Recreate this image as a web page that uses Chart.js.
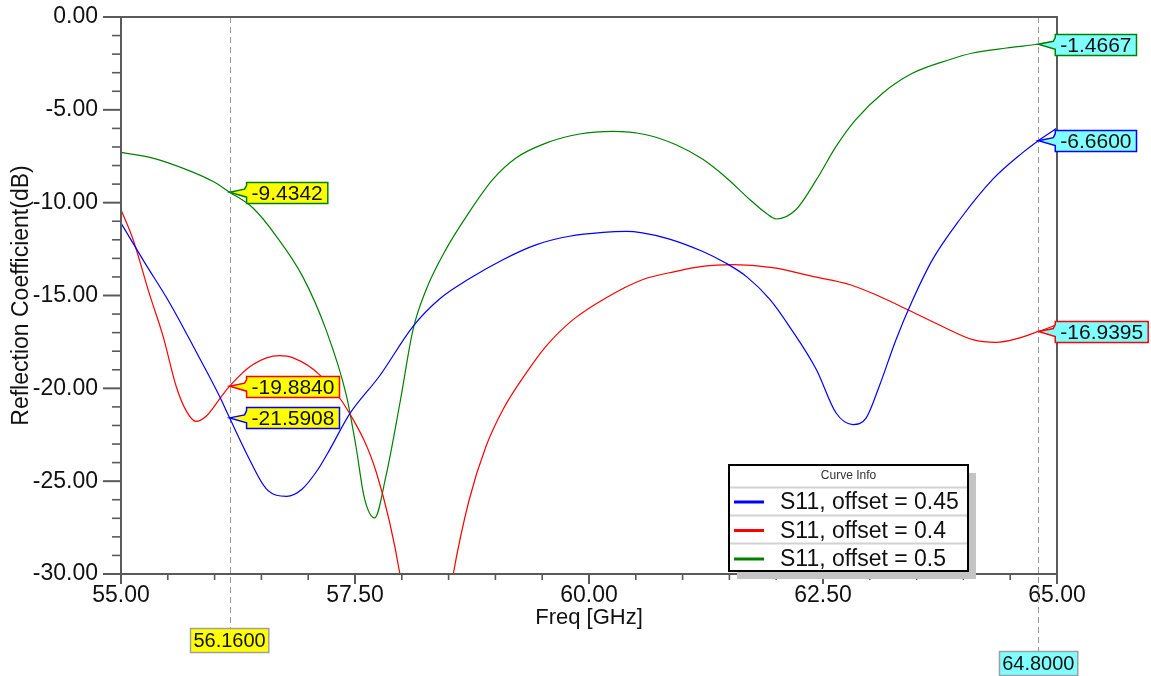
<!DOCTYPE html>
<html><head><meta charset="utf-8">
<script src="https://cdn.jsdelivr.net/npm/chart.js@4.4.0/dist/chart.umd.min.js"></script>
<style>html,body{margin:0;padding:0;background:#fff;}#wrap{width:1151px;height:676px;position:relative}</style>
</head><body><div id="wrap"><canvas id="c" width="1151" height="676"></canvas></div>
<script>
// ---------- data ----------
const xTickValues = [55, 57.5, 60, 62.5, 65];
const yTickValues = [0, -5, -10, -15, -20, -25, -30];
const seriesLabels = ['S11, offset = 0.45', 'S11, offset = 0.4', 'S11, offset = 0.5'];

const freqBlue = [55.0,55.25,55.52,55.8,56.05,56.16,56.35,56.55,56.77,56.93,57.1,57.23,57.44,57.76,58.12,58.40,58.72,59.08,59.44,59.79,60.15,60.40,60.57,60.86,61.21,61.46,61.68,61.93,62.14,62.43,62.64,62.82,62.96,63.10,63.28,63.46,63.67,63.96,64.31,64.63,64.80,65.0];
const s11Blue = [-11.1,-13.2,-15.4,-18.0,-20.4,-21.59,-23.6,-25.4,-25.82,-25.45,-24.4,-23.3,-21.4,-19.35,-16.66,-15.2,-14.1,-13.07,-12.26,-11.81,-11.6,-11.55,-11.63,-11.96,-12.62,-13.25,-13.97,-15.2,-16.66,-19.0,-21.33,-21.95,-21.6,-19.9,-17.38,-15.22,-13.07,-10.92,-8.76,-7.32,-6.66,-5.98];

const freqRed = [55.0,55.13,55.30,55.45,55.59,55.70,55.80,55.91,56.05,56.16,56.41,56.69,56.84,57.12,57.44,57.73,57.98,58.25,58.55,58.72,58.90,59.08,59.33,59.54,59.83,60.18,60.57,60.93,61.21,61.54,61.96,62.39,62.79,63.10,63.44,63.81,64.10,64.35,64.56,64.80,65.0];
const s11Red = [-10.38,-12.0,-14.86,-17.2,-19.9,-21.24,-21.78,-21.5,-20.6,-19.884,-18.72,-18.24,-18.36,-19.26,-21.33,-24.56,-30.0,-40.0,-30.0,-26.0,-23.12,-21.15,-19.17,-17.74,-16.3,-15.13,-14.15,-13.7,-13.43,-13.34,-13.5,-13.97,-14.42,-15.04,-15.85,-16.75,-17.38,-17.52,-17.34,-16.94,-16.57];

const freqGreen = [55.0,55.34,55.70,55.98,56.16,56.41,56.66,56.94,57.19,57.41,57.51,57.60,57.71,57.83,57.98,58.12,58.26,58.47,58.69,58.97,59.22,59.54,59.90,60.25,60.61,60.93,61.22,61.47,61.72,61.90,62.00,62.21,62.43,62.64,62.85,63.14,63.46,63.85,64.10,64.46,64.80,65.0];
const s11Green = [-7.29,-7.6,-8.22,-8.85,-9.434,-10.29,-11.81,-13.97,-16.84,-20.43,-23.12,-25.9,-26.98,-24.74,-20.79,-16.84,-14.69,-12.53,-10.74,-8.76,-7.59,-6.79,-6.30,-6.16,-6.34,-6.88,-7.68,-8.67,-9.84,-10.6,-10.88,-10.38,-8.76,-6.97,-5.53,-4.09,-3.02,-2.30,-1.94,-1.67,-1.4667,-1.32];

const markerFreqs = [56.16, 64.8];
const markerFreqLabels = ['56.1600', '64.8000'];
// order: blue, red, green
const markerLeftValues = [-21.5908, -19.8840, -9.4342];
const markerRightValues = [-6.6600, -16.9395, -1.4667];

// ---------- styles ----------
const colors = ['#0000ff', '#ff0000', '#008000'];
const FONT = '"Liberation Sans", Arial, sans-serif';
const AXIS = '#5a5a5a';

function pts(xs, ys){ return xs.map((x,i)=>({x, y: ys[i]})); }

const datasets = [
  {label: seriesLabels[0], data: pts(freqBlue, s11Blue)},
  {label: seriesLabels[1], data: pts(freqRed, s11Red)},
  {label: seriesLabels[2], data: pts(freqGreen, s11Green)}
].map((d,i)=>Object.assign(d, {borderColor: colors[i], backgroundColor: colors[i], borderWidth: 1.2, pointRadius: 0, showLine: true, cubicInterpolationMode: 'monotone', fill: false}));

function callout(ctx, px, py, text, fill, stroke){
  ctx.save();
  ctx.font = '21px ' + FONT;
  const tw = ctx.measureText(text).width;
  const bx = px + 17, h = 21, w = tw + 10;
  const top = Math.round(py - h/2) + 0.5;
  ctx.beginPath();
  ctx.moveTo(px, py);
  ctx.lineTo(bx - 2, py - 3);
  ctx.lineTo(bx, top + 3);
  ctx.lineTo(bx, top);
  ctx.lineTo(bx + w, top);
  ctx.lineTo(bx + w, top + h);
  ctx.lineTo(bx, top + h);
  ctx.lineTo(bx, py + 5);
  ctx.closePath();
  ctx.fillStyle = fill; ctx.fill();
  ctx.strokeStyle = stroke; ctx.lineWidth = 1.5; ctx.stroke();
  ctx.fillStyle = '#111';
  ctx.textBaseline = 'middle'; ctx.textAlign = 'left';
  ctx.fillText(text, bx + 5, top + h/2 + 1);
  ctx.restore();
}

const hfssPlugin = {
  id: 'hfss',
  beforeDatasetsDraw(chart){
    const {ctx, chartArea: a, scales: {x}} = chart;
    ctx.save();
    ctx.strokeStyle = '#9a9a9a'; ctx.lineWidth = 1; ctx.setLineDash([6,4]);
    const ends = [628, 651];
    markerFreqs.forEach((f,i)=>{
      const px = Math.round(x.getPixelForValue(f)) + 0.5;
      ctx.beginPath(); ctx.moveTo(px, a.top); ctx.lineTo(px, ends[i]); ctx.stroke();
    });
    ctx.restore();
  },
  afterDraw(chart){
    const {ctx, chartArea: a, scales: {x, y}} = chart;
    ctx.save();
    // frame
    ctx.strokeStyle = AXIS; ctx.lineWidth = 2;
    ctx.beginPath();
    ctx.moveTo(103, a.top); ctx.lineTo(a.right, a.top); ctx.lineTo(a.right, a.bottom);
    ctx.moveTo(a.left, a.top); ctx.lineTo(a.left, a.bottom); ctx.lineTo(a.right, a.bottom);
    ctx.stroke();
    // y ticks
    for (let v = 0; v >= -30; v -= 1){
      const py = y.getPixelForValue(v);
      const major = v % 5 === 0;
      ctx.lineWidth = major ? 2 : 1.6;
      ctx.beginPath(); ctx.moveTo(a.left - (major ? 18 : 9), py); ctx.lineTo(a.left, py); ctx.stroke();
    }
    // x ticks
    for (let f = 55; f <= 65.001; f += 0.5){
      const px = x.getPixelForValue(f);
      const major = Math.abs(f/2.5 - Math.round(f/2.5)) < 1e-6;
      ctx.lineWidth = major ? 2 : 1.6;
      ctx.beginPath(); ctx.moveTo(px, a.bottom); ctx.lineTo(px, a.bottom + (major ? 10 : 6)); ctx.stroke();
    }
    // legend
    const L = {x: 729, y: 465, w: 239, h: 106};
    ctx.fillStyle = '#c4c4c4';
    ctx.fillRect(L.x + 8, L.y + 8, L.w, L.h);
    ctx.fillStyle = '#fff';
    ctx.fillRect(L.x, L.y, L.w, L.h);
    ctx.strokeStyle = '#d2d2d2'; ctx.lineWidth = 2;
    [487.5, 515.5, 543.5].forEach(sy=>{ ctx.beginPath(); ctx.moveTo(L.x, sy); ctx.lineTo(L.x + L.w, sy); ctx.stroke(); });
    ctx.strokeStyle = '#000'; ctx.lineWidth = 2;
    ctx.strokeRect(L.x, L.y, L.w, L.h);
    ctx.fillStyle = '#333'; ctx.font = '12px ' + FONT; ctx.textAlign = 'center'; ctx.textBaseline = 'middle';
    ctx.fillText('Curve Info', L.x + L.w/2, 476);
    const rowY = [502, 530.5, 559];
    chart.data.datasets.forEach((d,i)=>{
      ctx.strokeStyle = d.borderColor; ctx.lineWidth = 3;
      ctx.beginPath(); ctx.moveTo(734, rowY[i]); ctx.lineTo(764, rowY[i]); ctx.stroke();
      ctx.fillStyle = '#111'; ctx.font = '23px ' + FONT; ctx.textAlign = 'left'; ctx.textBaseline = 'middle';
      ctx.fillText(d.label, 780, rowY[i] + 1);
    });
    // callouts
    const xl = x.getPixelForValue(markerFreqs[0]);
    const xr = x.getPixelForValue(markerFreqs[1]);
    markerLeftValues.forEach((v,i)=>callout(ctx, xl, y.getPixelForValue(v), v.toFixed(4), '#ffff00', colors[i]));
    markerRightValues.forEach((v,i)=>callout(ctx, xr, y.getPixelForValue(v), v.toFixed(4), '#80ffff', colors[i]));
    // marker frequency labels
    const boxes = [{top: 628, fill: '#ffff00'}, {top: 651, fill: '#80ffff'}];
    markerFreqs.forEach((f,i)=>{
      const px = x.getPixelForValue(f);
      ctx.font = '20px ' + FONT;
      const tw = ctx.measureText(markerFreqLabels[i]).width;
      const w = tw + 6, h = 24;
      const bx = Math.round(px - w/2) + 0.5, by = boxes[i].top + 0.5;
      ctx.fillStyle = boxes[i].fill; ctx.fillRect(bx, by, w, h);
      ctx.strokeStyle = '#a0a0a0'; ctx.lineWidth = 1.5; ctx.strokeRect(bx, by, w, h);
      ctx.fillStyle = '#111'; ctx.textAlign = 'center'; ctx.textBaseline = 'middle';
      ctx.fillText(markerFreqLabels[i], px, by + h/2 + 1);
    });
    ctx.restore();
  }
};

new Chart(document.getElementById('c'), {
  type: 'scatter',
  data: {datasets},
  options: {
    responsive: false, animation: false, devicePixelRatio: 1,
    layout: {padding: {top: 17, right: 94, left: 0, bottom: 0}},
    plugins: {legend: {display: false}, tooltip: {enabled: false}},
    scales: {
      x: {
        type: 'linear', min: 55, max: 65,
        afterBuildTicks: s => { s.ticks = xTickValues.map(v=>({value: v})); },
        afterFit: s => { s.height = 102; s.paddingLeft = 0; s.paddingRight = 0; },
        grid: {display: false, drawTicks: false},
        border: {display: false},
        ticks: {padding: 8, color: '#111', font: {family: FONT, size: 23}, callback: v => Number(v).toFixed(2), maxRotation: 0},
        title: {display: true, text: 'Freq [GHz]', color: '#111', font: {family: FONT, size: 22}, padding: {top: 0, bottom: 45}}
      },
      y: {
        type: 'linear', min: -30, max: 0,
        afterBuildTicks: s => { s.ticks = yTickValues.map(v=>({value: v})); },
        afterFit: s => { s.width = 121; s.paddingTop = 0; s.paddingBottom = 0; },
        grid: {display: false, drawTicks: false},
        border: {display: false},
        ticks: {padding: 23, color: '#111', font: {family: FONT, size: 23}, callback: v => Number(v).toFixed(2)},
        title: {display: true, text: 'Reflection Coefficient(dB)', color: '#111', font: {family: FONT, size: 23}, padding: {top: 8, bottom: 0}}
      }
    }
  },
  plugins: [hfssPlugin]
});
</script>
</body></html>
